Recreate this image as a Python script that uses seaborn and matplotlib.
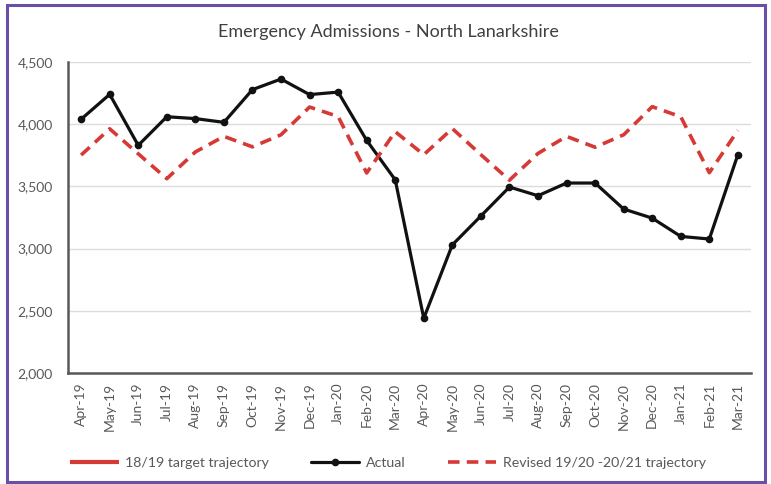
import matplotlib
matplotlib.use("Agg")
import matplotlib.pyplot as plt
from matplotlib.patches import Rectangle
import numpy as np
import pandas as pd
import seaborn as sns

months = ["Apr-19", "May-19", "Jun-19", "Jul-19", "Aug-19", "Sep-19",
          "Oct-19", "Nov-19", "Dec-19", "Jan-20", "Feb-20", "Mar-20",
          "Apr-20", "May-20", "Jun-20", "Jul-20", "Aug-20", "Sep-20",
          "Oct-20", "Nov-20", "Dec-20", "Jan-21", "Feb-21", "Mar-21"]

actual = [4040, 4240, 3830, 4060, 4045, 4015,
          4278, 4363, 4238, 4258, 3870, 3553,
          2440, 3030, 3262, 3495, 3425, 3527,
          3527, 3318, 3245, 3098, 3077, 3755]

revised = [3752, 3963, 3762, 3562, 3777, 3902,
           3818, 3915, 4138, 4062, 3608, 3940,
           3755, 3965, 3755, 3550, 3765, 3902,
           3815, 3915, 4141, 4060, 3610, 3950]

# the 18/19 target has no values in this period; it only appears in the key
target_1819 = [np.nan] * len(months)

title = "Emergency Admissions - North Lanarkshire"
yticks = [2000, 2500, 3000, 3500, 4000, 4500]

df = pd.DataFrame({"idx": np.arange(len(months)), "month": months,
                   "actual": actual, "revised": revised,
                   "target": target_1819})

sns.set_theme(style="white")
plt.rcParams["font.family"] = ["Lato", "DejaVu Sans"]

fig = plt.figure(figsize=(7.71, 4.84), dpi=100)
ax = fig.add_axes([68 / 771, 1 - 373 / 484, (751 - 68) / 771, (373 - 62) / 484])

red = "#d63a36"
ax.plot([], [], color=red, lw=3.0, solid_capstyle="butt",
        label="18/19 target trajectory")
sns.lineplot(data=df, x="idx", y="actual", ax=ax, color="#111111",
             lw=2.3, marker="o", markersize=5.5, markeredgewidth=0,
             label="Actual")
sns.lineplot(data=df, x="idx", y="revised", ax=ax, color=red,
             lw=2.6, label="Revised 19/20 -20/21 trajectory")
ax.lines[-1].set_dashes([3.2, 2.0])

ax.set_xlim(-0.46, len(months) - 1 + 0.46)
ax.set_ylim(2000, 4500)
ax.set_yticks(yticks)
ax.set_yticklabels([f"{v:,}" for v in yticks])
ax.set_xticks(np.arange(len(months)))
ax.set_xticklabels(months, rotation=90)
ax.set_xlabel("")
ax.set_ylabel("")

ax.grid(axis="y", color="#dcdcdc", lw=1.0)
ax.set_axisbelow(True)
for side in ["top", "right"]:
    ax.spines[side].set_visible(False)
for side in ["left", "bottom"]:
    ax.spines[side].set_color("#595959")
    ax.spines[side].set_linewidth(1.8)

ax.tick_params(axis="both", length=0, labelsize=10, colors="#595959")
ax.tick_params(axis="x", pad=7)
ax.tick_params(axis="y", pad=11)

fig.text(388 / 771, 1 - 32 / 484, title, ha="center", va="center",
         fontsize=13, color="#404040")

leg = ax.legend(loc="center", bbox_to_anchor=(388 / 771, 1 - 463 / 484),
                bbox_transform=fig.transFigure, ncol=3,
                frameon=False, fontsize=10.2, handlelength=3.4,
                columnspacing=3.0, handletextpad=0.45)
for t in leg.get_texts():
    t.set_color("#595959")

fig.patches.append(Rectangle((7 / 771, 1 - 482 / 484), (765 - 7) / 771,
                             (482 - 5) / 484, transform=fig.transFigure,
                             fill=False, edgecolor="#6a4fa8", lw=2.2))

fig.savefig("out.png", dpi=100)
